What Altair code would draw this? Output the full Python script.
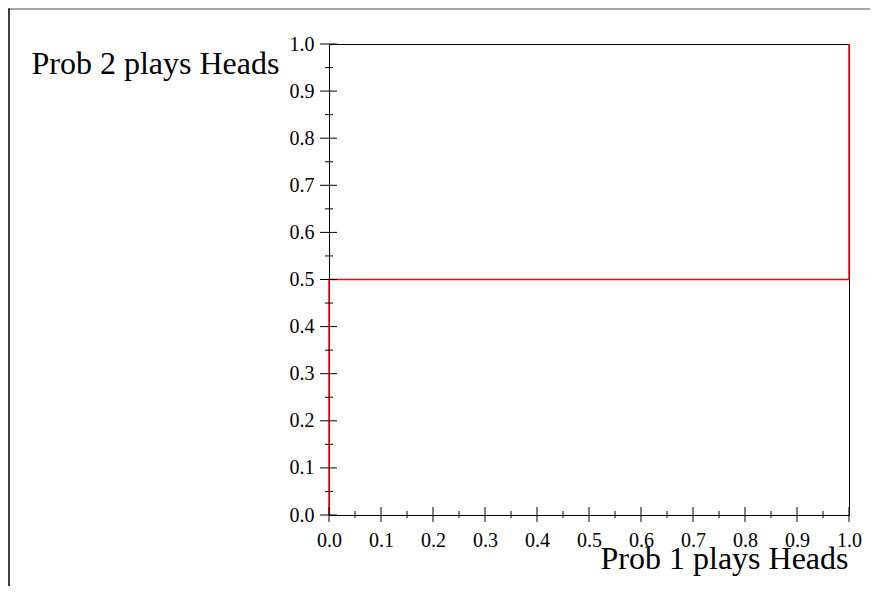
import altair as alt
import pandas as pd

# Data: strategy path (Prob 1 plays Heads, Prob 2 plays Heads)
path_x = [0.0, 0.0, 1.0, 1.0]
path_y = [0.0, 0.5, 0.5, 1.0]
path_order = [0, 1, 2, 3]

major_ticks = [0.0, 0.1, 0.2, 0.3, 0.4, 0.5, 0.6, 0.7, 0.8, 0.9, 1.0]
minor_ticks = [0.05, 0.15, 0.25, 0.35, 0.45, 0.55, 0.65, 0.75, 0.85, 0.95]

x_title = "Prob 1 plays Heads"
y_title = "Prob 2 plays Heads"

W, H = 520, 471
PAD = {"left": 321, "top": 36, "right": 21, "bottom": 71}
FONT = "Liberation Serif"

xscale = alt.Scale(domain=[0, 1], nice=False, zero=False)
yscale = alt.Scale(domain=[0, 1], nice=False, zero=False)

path = pd.DataFrame({"p1": path_x, "p2": path_y, "order": path_order})
maj = pd.DataFrame({"v": major_ticks})
mnr = pd.DataFrame({"v": minor_ticks})
one = pd.DataFrame({"a": [0]})

xaxis = alt.Axis(
    values=major_ticks, format=".1f", title=x_title, ticks=False, grid=False,
    domainColor="black", domainWidth=1,
    labelFont=FONT, labelFontSize=20, labelColor="black",
    labelPadding=31, labelBaseline="alphabetic", labelFlush=False, labelOverlap=False,
    titleFont=FONT, titleFontSize=32, titleFontWeight="normal", titleColor="black",
    titleAlign="right", titleBaseline="alphabetic", titleX=W - 1, titleY=53,
)
yaxis = alt.Axis(
    values=major_ticks, format=".1f", title=y_title, ticks=False, grid=False,
    domainColor="black", domainWidth=1,
    labelFont=FONT, labelFontSize=20, labelColor="black",
    labelPadding=15, labelBaseline="middle", labelFlush=False, labelOverlap=False,
    titleFont=FONT, titleFontSize=32, titleFontWeight="normal", titleColor="black",
    titleAngle=0, titleAlign="left", titleBaseline="alphabetic",
    titleX=-298, titleY=29,
)

line = alt.Chart(path).mark_line(color="#ff0000", strokeWidth=1.5).encode(
    x=alt.X("p1:Q", scale=xscale, axis=xaxis),
    y=alt.Y("p2:Q", scale=yscale, axis=yaxis),
    order="order:Q",
)

x_major = alt.Chart(maj).mark_rule(color="black", strokeWidth=1, yOffset=-8, y2Offset=7).encode(
    x=alt.X("v:Q", scale=xscale, axis=xaxis),
    y=alt.YDatum(0, scale=yscale, axis=yaxis), y2=alt.Y2Datum(0),
)
x_minor = alt.Chart(mnr).mark_rule(color="black", strokeWidth=1, yOffset=-4, y2Offset=3).encode(
    x=alt.X("v:Q", scale=xscale, axis=xaxis),
    y=alt.YDatum(0, scale=yscale, axis=yaxis), y2=alt.Y2Datum(0),
)
y_major = alt.Chart(maj).mark_rule(color="black", strokeWidth=1, xOffset=-9, x2Offset=8).encode(
    y=alt.Y("v:Q", scale=yscale, axis=yaxis),
    x=alt.XDatum(0, scale=xscale, axis=xaxis), x2=alt.X2Datum(0),
)
y_minor = alt.Chart(mnr).mark_rule(color="black", strokeWidth=1, xOffset=-4, x2Offset=4).encode(
    y=alt.Y("v:Q", scale=yscale, axis=yaxis),
    x=alt.XDatum(0, scale=xscale, axis=xaxis), x2=alt.X2Datum(0),
)

# outer frame decoration (top and left edges of the figure)
frame_top = alt.Chart(one).mark_rule(color="#888888", strokeWidth=1.5).encode(
    x=alt.value(-PAD["left"]), x2=alt.value(W + PAD["right"]), y=alt.value(-PAD["top"] + 1),
)
frame_left = alt.Chart(one).mark_rule(color="black", strokeWidth=1.5).encode(
    x=alt.value(-PAD["left"] + 1), y=alt.value(-PAD["top"] + 0.5), y2=alt.value(H + PAD["bottom"]),
)

chart = alt.layer(
    line, x_major, x_minor, y_major, y_minor, frame_top, frame_left
).properties(
    width=W, height=H, padding=PAD,
    autosize=alt.AutoSizeParams(type="none"),
    background="white",
).configure_view(stroke="black", strokeWidth=1)

chart.save("out.html", embed_options={"renderer": "svg", "actions": False})
